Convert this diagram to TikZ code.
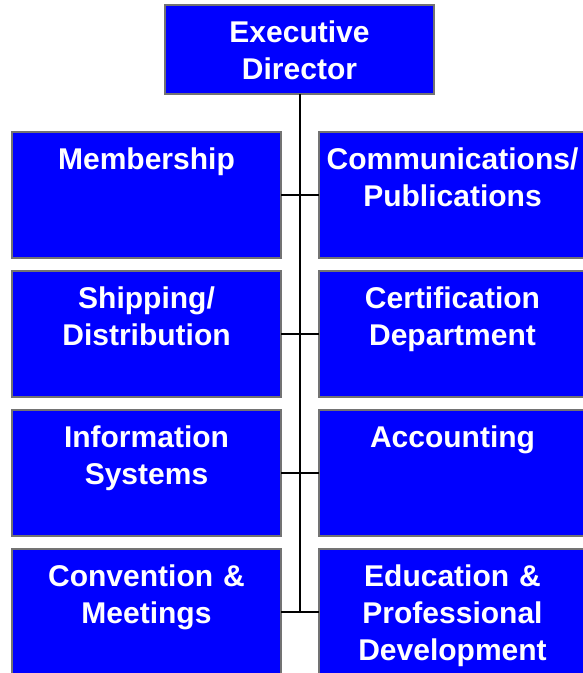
\documentclass[tikz,border=0pt]{standalone}
\usepackage{fontspec}
\setmainfont{Liberation Sans}
\begin{document}
\begin{tikzpicture}[x=1pt,y=-1pt,
  box/.style={draw=gray!90!black, line width=1.5pt, fill={rgb,255:red,0;green,0;blue,255}, minimum width=269pt, minimum height=126pt, inner sep=0pt, outer sep=0pt},
  txt/.style={text=white, font=\fontsize{30}{37}\selectfont\bfseries, align=center, text width=269pt, inner sep=0pt, anchor=base},
  conn/.style={draw=black, line width=2pt}]
\useasboundingbox (0,0) rectangle (583,673);
\clip (0,0) rectangle (583,673);
\node[box, minimum height=89pt] (exec) at (299.5,49.5) {};
\node[txt] (texec) at (299.5,42) {Executive\\Director};
\node[box] (l1) at (146.5,195) {};
\node[box] (r1) at (453.5,195) {};
\node[box] (l2) at (146.5,334) {};
\node[box] (r2) at (453.5,334) {};
\node[box] (l3) at (146.5,473) {};
\node[box] (r3) at (453.5,473) {};
\node[box] (l4) at (146.5,612) {};
\node[box] (r4) at (453.5,612) {};
\node[txt] (tl1) at (146.5,169) {Membership};
\node[txt] (tr1) at (452.5,169) {Communications/\\Publications};
\node[txt] (tl2) at (146.5,308) {Shipping/\\Distribution};
\node[txt] (tr2) at (452.5,308) {Certification\\Department};
\node[txt] (tl3) at (146.5,447) {Information\\Systems};
\node[txt] (tr3) at (452.5,447) {Accounting};
\node[txt] (tl4) at (146.5,586) {Convention \&\\Meetings};
\node[txt] (tr4) at (452.5,586) {Education \&\\Professional\\Development};
\draw[conn] (exec.south) -- (exec.south |- l4.east);
\draw[conn] (l1.east) -- (r1.west);
\draw[conn] (l2.east) -- (r2.west);
\draw[conn] (l3.east) -- (r3.west);
\draw[conn] (l4.east) -- (r4.west);
\end{tikzpicture}
\end{document}
